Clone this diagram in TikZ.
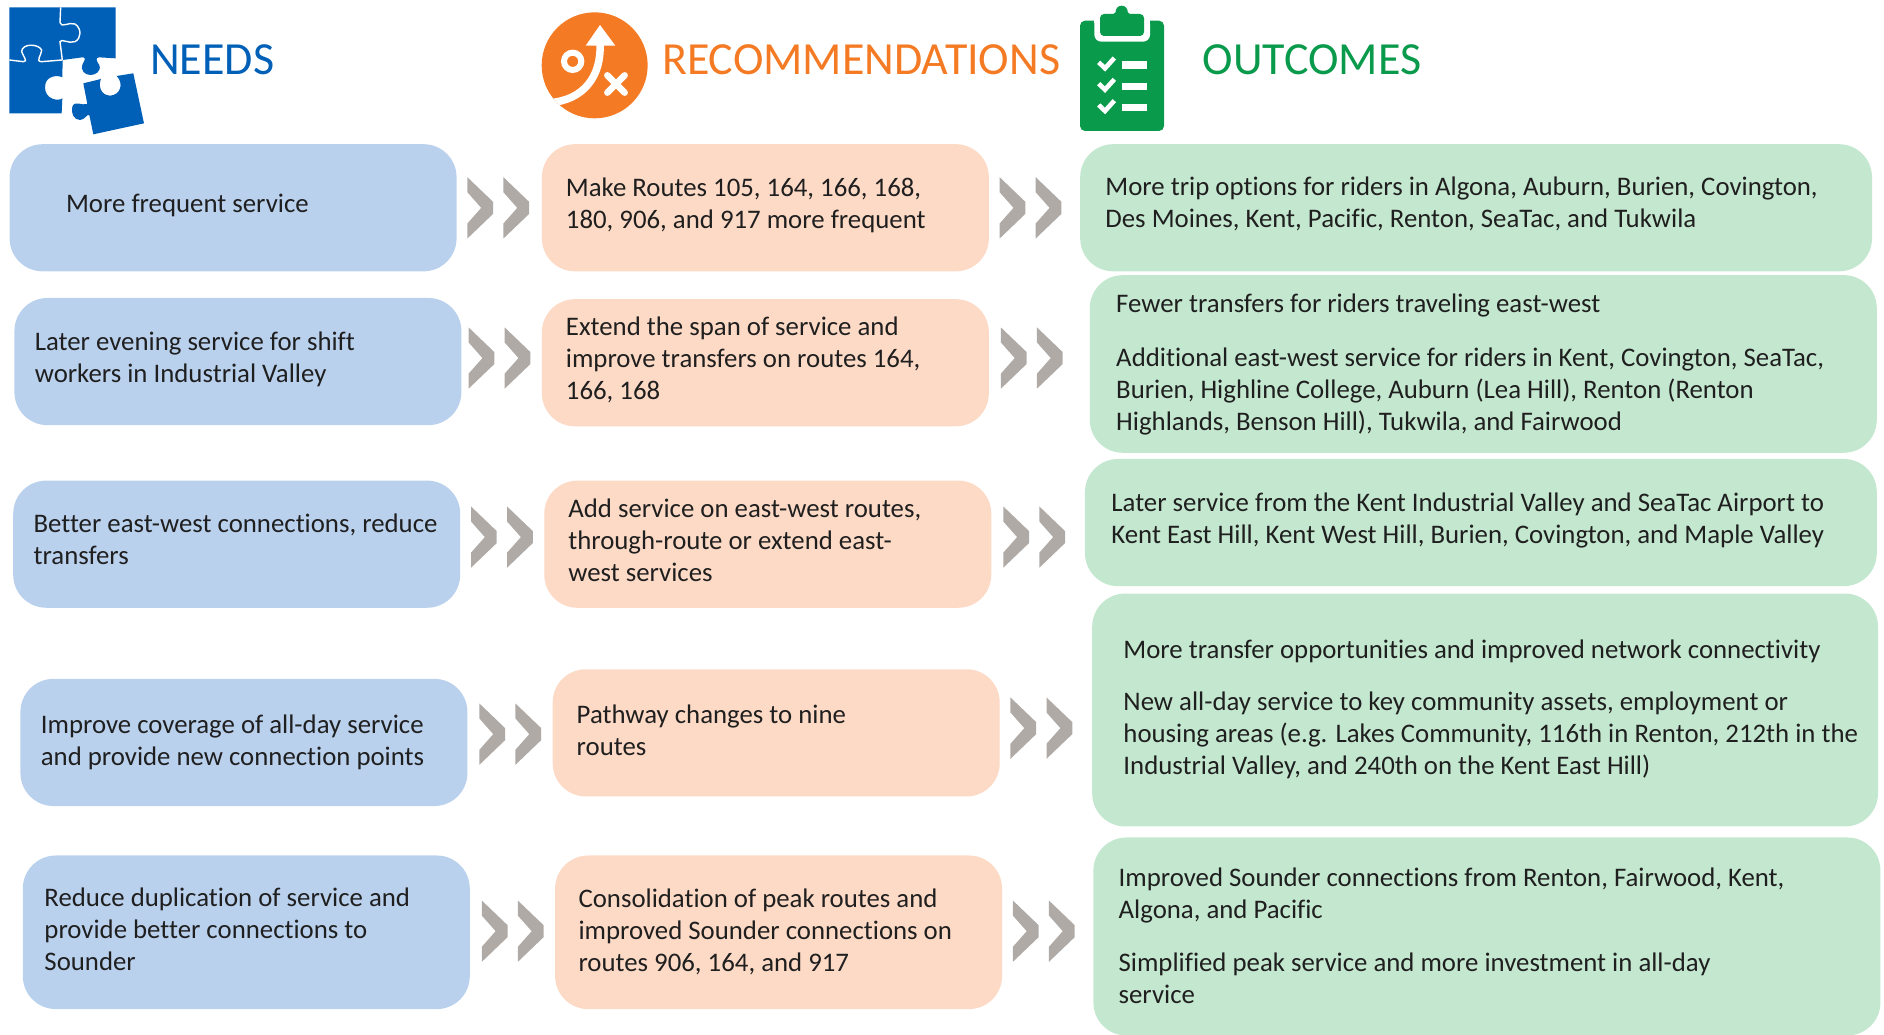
\documentclass[tikz,border=0pt]{standalone}
\usepackage{fontspec}
\setmainfont[Ligatures=NoCommon]{Carlito}
\definecolor{txt}{HTML}{1F1F1F}
\definecolor{bluefill}{HTML}{BAD1EE}
\definecolor{peachfill}{HTML}{FDDAC6}
\definecolor{greenfill}{HTML}{C4E7CF}
\definecolor{chevcol}{HTML}{AFAAA6}
\definecolor{hblue}{HTML}{0060B8}
\definecolor{horange}{HTML}{F47A24}
\definecolor{hgreen}{HTML}{0A9A4C}
\tikzset{
  card/.style={rounded corners=33pt,anchor=north west,inner sep=0pt,outer sep=0pt},
  needbox/.style={card,fill=bluefill},
  recbox/.style={card,fill=peachfill},
  outbox/.style={card,fill=greenfill},
  label/.style={anchor=west,inner sep=0pt,outer sep=0pt,align=left,text=txt,
    font=\fontsize{26.8pt}{32pt}\selectfont},
  heading/.style={anchor=west,inner sep=0pt,outer sep=0pt,font=\fontsize{46pt}{52pt}\selectfont},
  chevron/.pic={\fill[chevcol] (0,-25.5) -- (21.4,-5) -- (21.4,5) -- (0,25.5) -- (0,13) -- (11.5,0) -- (0,-13) -- cycle;},
  icon/.style={x=0.3333pt,y=-0.3333pt}
}
\newcommand{\bx}[6]{\node[#1,minimum width=#4*1.2015pt-#2*1.2015pt,minimum height=#5*1.2015pt-#3*1.2015pt+1pt] (#6) at (#2,#3) {};}
\begin{document}
\begin{tikzpicture}[x=1.2015pt,y=-1.2015pt]
\useasboundingbox (0,0) rectangle (1568,861.4);
% icons
\begin{scope}[icon]
 \fill[hblue] (28,22) -- (347,22) -- (347,175) -- (297,172) .. controls (285,172) and (290,185) .. (298,195) .. controls (305,215) and (285,225) .. (272,225) .. controls (255,225) and (240,212) .. (248,192) .. controls (255,180) and (258,172) .. (248,172) -- (188,180) -- (187,232) .. controls (175,225) and (135,225) .. (135,262) .. controls (135,298) and (175,305) .. (187,295) -- (185,340) -- (28,340) -- cycle;
 \draw[white,line width=1.4pt] (182,22) -- (180,68) .. controls (185,85) and (205,65) .. (225,72) .. controls (245,85) and (245,115) .. (225,125) .. controls (205,132) and (185,115) .. (180,125) -- (187,180);
 \draw[white,line width=1.4pt] (28,180) -- (70,185) .. controls (85,185) and (70,170) .. (65,155) .. controls (65,130) and (115,130) .. (125,150) .. controls (125,165) and (105,185) .. (125,185) -- (187,180);
 \fill[hblue] (250,250) -- (303,237) .. controls (295,255) and (300,285) .. (330,287) .. controls (362,285) and (372,250) .. (350,228) -- (400,220) -- (432,370) -- (280,403) -- (268,345) .. controls (262,340) and (255,360) .. (240,360) .. controls (222,360) and (212,340) .. (217,320) .. controls (225,300) and (245,318) .. (262,312) -- cycle;
\end{scope}
\begin{scope}[icon,shift={(520pt,0pt)}]
 \fill[horange] (224,196) circle (159);
 \begin{scope}
  \clip (224,196) circle (159);
  \draw[white,line width=7.5pt] (240,130) .. controls (245,230) and (190,300) .. (90,308);
 \end{scope}
 \fill[white] (240,75) -- (197,137) -- (286,137) -- cycle;
 \draw[white,line width=6pt] (158,184) circle (26);
 \draw[white,line width=6.5pt,line cap=round] (262,226) -- (314,278) (314,226) -- (262,278);
\end{scope}
\begin{scope}[icon,shift={(1060pt,0pt)}]
 \fill[hgreen,rounded corners=5pt] (60,62) rectangle (312,393);
 \fill[white,rounded corners=7pt] (103,50) rectangle (270,125);
 \fill[white] (103,40) rectangle (270,70);
 \fill[hgreen,rounded corners=4pt] (120,42) rectangle (252,108);
 \fill[hgreen] (185,35) circle (18);
 \fill[hgreen] (150,45) .. controls (170,42) and (170,30) .. (172,25) -- (198,25) .. controls (200,30) and (200,42) .. (220,45) -- cycle;
 \foreach \dy in {0,64,128} {
  \draw[white,line width=4.6pt] (116,187+\dy) -- (135,205+\dy) -- (163,174+\dy);
  \fill[white] (186,184+\dy) rectangle (262,206+\dy);
 }
\end{scope}
% headings
\node[heading,text=hblue] (hneeds) at (125,49.7) {NEEDS};
\node[heading,text=horange] (hrec) at (551,49.7) {RECOMMENDATIONS};
\node[heading,text=hgreen] (hout) at (1001,49.7) {OUTCOMES};
% boxes
\bx{needbox}{8}{120}{380}{225}{n1}
\bx{needbox}{12}{248}{384}{353}{n2}
\bx{needbox}{11}{400}{383}{505}{n3}
\bx{needbox}{17}{565}{389}{670}{n4}
\bx{needbox}{19}{712}{391}{839}{n5}
\bx{recbox}{451}{120}{823}{225}{r1}
\bx{recbox}{451}{249}{823}{354}{r2}
\bx{recbox}{453}{400}{825}{505}{r3}
\bx{recbox}{460}{557}{832}{662}{r4}
\bx{recbox}{462}{712}{834}{839}{r5}
\bx{outbox}{899}{120}{1558}{225}{o1}
\bx{outbox}{907}{229}{1562}{376}{o2}
\bx{outbox}{903}{382}{1562}{487}{o3}
\bx{outbox}{909}{494}{1563}{687}{o4}
\bx{outbox}{910}{697}{1565}{861}{o5}
% chevrons
\foreach \xa/\ya in {389/173,419/173,390/298,420/298,392/447,422/447,399/611,429/611,401/775,431/775,
  832/173,862/173,833/298,863/298,835/447,865/447,841/606,871/606,843/775,873/775}
  \pic at (\xa,\ya) {chevron};
% labels
\node[label] (tn1) at (55,171) {More frequent service};
\node[label] (tn2) at (29,299) {Later evening service for shift\\workers in Industrial Valley};
\node[label] (tn3) at (28,449) {Better east-west connections, reduce\\transfers};
\node[label] (tn4) at (34,618) {Improve coverage of all-day service\\and provide new connection points};
\node[label] (tn5) at (37,773.5) {Reduce duplication of service and\\provide better connections to\\Sounder};
\node[label] (tr1) at (471,171) {Make Routes 105, 164, 166, 168,\\180, 906, and 917 more frequent};
\node[label] (tr2) at (471,299.5) {Extend the span of service and\\improve transfers on routes 164,\\166, 168};
\node[label] (tr3) at (473,450) {Add service on east-west routes,\\through-route or extend east-\\west services};
\node[label] (tr4) at (480,608) {Pathway changes to nine\\routes};
\node[label] (tr5) at (481.5,775.5) {Consolidation of peak routes and\\improved Sounder connections on\\routes 906, 164, and 917};
\node[label] (to1) at (920,170) {More trip options for riders in Algona, Auburn, Burien, Covington,\\Des Moines, Kent, Pacific, Renton, SeaTac, and Tukwila};
\node[label] (to2a) at (929,254) {Fewer transfers for riders traveling east-west};
\node[label] (to2b) at (929,325.5) {Additional east-west service for riders in Kent, Covington, SeaTac,\\Burien, Highline College, Auburn (Lea Hill), Renton (Renton\\Highlands, Benson Hill), Tukwila, and Fairwood};
\node[label] (to3) at (925,433) {Later service from the Kent Industrial Valley and SeaTac Airport to\\Kent East Hill, Kent West Hill, Burien, Covington, and Maple Valley};
\node[label] (to4a) at (935,542) {More transfer opportunities and improved network connectivity};
\node[label] (to4b) at (935,612) {New all-day service to key community assets, employment or\\housing areas (e.g. Lakes Community, 116th in Renton, 212th in the\\Industrial Valley, and 240th on the Kent East Hill)};
\node[label] (to5a) at (931,745) {Improved Sounder connections from Renton, Fairwood, Kent,\\Algona, and Pacific};
\node[label] (to5b) at (931,814.5) {Simplified peak service and more investment in all-day\\service};
\end{tikzpicture}
\end{document}
